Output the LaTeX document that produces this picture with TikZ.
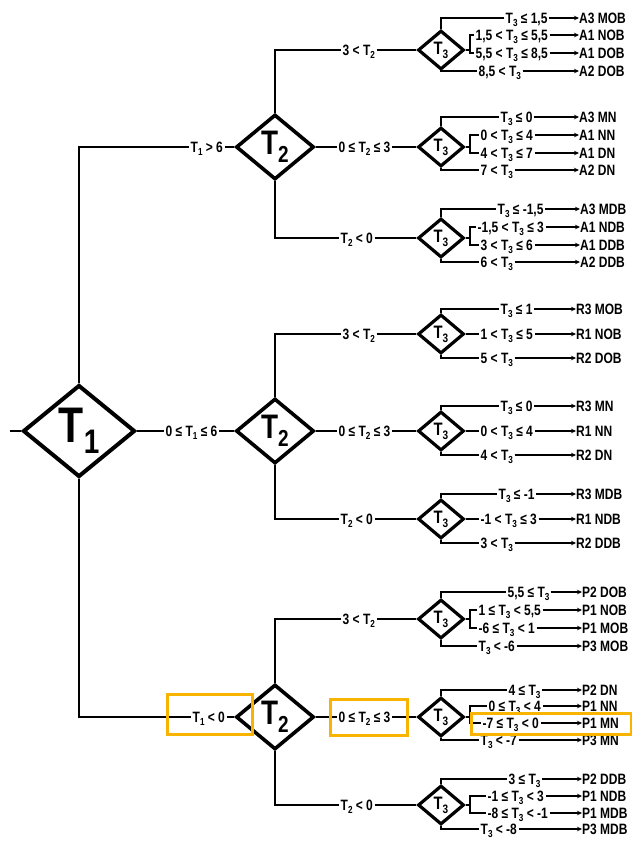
\documentclass[tikz,border=0pt]{standalone}
\usepackage{fontspec}
\setmainfont{Liberation Sans}
\newfontfamily\lblfont{Liberation Sans}[FakeStretch=0.8]
\newfontfamily\diafont{Liberation Sans}[FakeStretch=0.82]
\usetikzlibrary{shapes.geometric,arrows.meta}
\definecolor{hlc}{RGB}{248,180,0}
\newcommand\Ts[1]{T\raisebox{-0.22em}{\scalebox{0.68}{#1}}}
\tikzset{
 ln/.style={line width=1.9pt},
 dia/.style={shape=diamond, draw, inner sep=0pt, fill=white, line join=miter},
 d1/.style={dia, minimum width=112pt, minimum height=92pt, line width=4pt, font=\diafont\bfseries\fontsize{50}{50}\selectfont},
 d2/.style={dia, minimum width=78pt, minimum height=65pt, line width=3.6pt, font=\diafont\bfseries\fontsize{34}{34}\selectfont},
 d3/.style={dia, minimum width=46pt, minimum height=39pt, line width=3.2pt, font=\diafont\bfseries\fontsize{18}{18}\selectfont},
 lab/.style={anchor=west, inner xsep=1.5pt, inner ysep=0pt, text height=10.7pt, text depth=0pt, font=\lblfont\bfseries\fontsize{15}{15}\selectfont},
 res/.style={lab, inner xsep=0pt},
 arr/.style={ln, -{Stealth[length=5pt,width=4.5pt]}},
 hl/.style={draw=hlc, line width=3pt}
}
\begin{document}
\begin{tikzpicture}[x=1pt,y=-1pt]
\useasboundingbox (0,0) rectangle (632,844);
% ---------- level 1
\node[d1] (T1) at (79,431) {\Ts{1}};
\coordinate (in) at (10,431);
\draw[ln] (in) -- (T1.west);
\node[d2] (Ta) at (275,147) {\Ts{2}};
\node[d2] (Tb) at (275,431) {\Ts{2}};
\node[d2] (Tc) at (275,717) {\Ts{2}};
\node[lab] (t1a) at (189,147) {\Ts{1} > 6};
\node[lab] (t1b) at (164,431) {0 ≤ \Ts{1} ≤ 6};
\node[lab] (t1c) at (191,717) {\Ts{1} < 0};
\draw[ln] (T1.north) |- (t1a.west); \draw[ln] (t1a.east) -- (Ta.west);
\draw[ln] (T1.east) -- (t1b.west); \draw[ln] (t1b.east) -- (Tb.west);
\draw[ln] (T1.south) |- (t1c.west); \draw[ln] (t1c.east) -- (Tc.west);
% ---------- T3 nodes
\node[d3] (a1) at (441,50) {\Ts{3}};
\node[d3] (a2) at (441,147) {\Ts{3}};
\node[d3] (a3) at (441,238) {\Ts{3}};
\node[d3] (r1) at (441,334) {\Ts{3}};
\node[d3] (r2) at (441,431) {\Ts{3}};
\node[d3] (r3) at (441,519) {\Ts{3}};
\node[d3] (p1) at (441,619) {\Ts{3}};
\node[d3] (p2) at (441,717) {\Ts{3}};
\node[d3] (p3) at (441,805) {\Ts{3}};
% ---------- level 2 labels
\node[lab] (ua) at (341,50) {3 < \Ts{2}};
\node[lab] (ma) at (337,147) {0 ≤ \Ts{2} ≤ 3};
\node[lab] (da) at (339,238) {\Ts{2} < 0};
\node[lab] (ub) at (341,334) {3 < \Ts{2}};
\node[lab] (mb) at (337,431) {0 ≤ \Ts{2} ≤ 3};
\node[lab] (db) at (339,519) {\Ts{2} < 0};
\node[lab] (uc) at (341,619) {3 < \Ts{2}};
\node[lab] (mc) at (337,717) {0 ≤ \Ts{2} ≤ 3};
\node[lab] (dc) at (339,805) {\Ts{2} < 0};
\draw[ln] (Ta.north) |- (ua.west); \draw[ln] (ua.east) -- (a1.west);
\draw[ln] (Ta.east) -- (ma.west);  \draw[ln] (ma.east) -- (a2.west);
\draw[ln] (Ta.south) |- (da.west); \draw[ln] (da.east) -- (a3.west);
\draw[ln] (Tb.north) |- (ub.west); \draw[ln] (ub.east) -- (r1.west);
\draw[ln] (Tb.east) -- (mb.west);  \draw[ln] (mb.east) -- (r2.west);
\draw[ln] (Tb.south) |- (db.west); \draw[ln] (db.east) -- (r3.west);
\draw[ln] (Tc.north) |- (uc.west); \draw[ln] (uc.east) -- (p1.west);
\draw[ln] (Tc.east) -- (mc.west);  \draw[ln] (mc.east) -- (p2.west);
\draw[ln] (Tc.south) |- (dc.west); \draw[ln] (dc.east) -- (p3.west);
% ---------- A1
\node[lab] (a1l1) at (504,18) {\Ts{3} ≤ 1,5};
\node[lab] (a1l2) at (474,35) {1,5 < \Ts{3} ≤ 5,5};
\node[lab] (a1l3) at (474,53) {5,5 < \Ts{3} ≤ 8,5};
\node[lab] (a1l4) at (477,71) {8,5 < \Ts{3}};
\node[res] (a1o1) at (579,18) {A3 MOB};
\node[res] (a1o2) at (579,35) {A1 NOB};
\node[res] (a1o3) at (579,53) {A1 DOB};
\node[res] (a1o4) at (579,71) {A2 DOB};
% ---------- A2
\node[lab] (a2l1) at (499,117) {\Ts{3} ≤ 0};
\node[lab] (a2l2) at (479,135) {0 < \Ts{3} ≤ 4};
\node[lab] (a2l3) at (479,153) {4 < \Ts{3} ≤ 7};
\node[lab] (a2l4) at (479,170) {7 < \Ts{3}};
\node[res] (a2o1) at (579,117) {A3 MN};
\node[res] (a2o2) at (579,135) {A1 NN};
\node[res] (a2o3) at (579,153) {A1 DN};
\node[res] (a2o4) at (579,170) {A2 DN};
% ---------- A3
\node[lab] (a3l1) at (496,209) {\Ts{3} ≤ -1,5};
\node[lab] (a3l2) at (476,227) {-1,5 < \Ts{3} ≤ 3};
\node[lab] (a3l3) at (479,245) {3 < \Ts{3} ≤ 6};
\node[lab] (a3l4) at (479,262) {6 < \Ts{3}};
\node[res] (a3o1) at (580,209) {A3 MDB};
\node[res] (a3o2) at (580,227) {A1 NDB};
\node[res] (a3o3) at (580,245) {A1 DDB};
\node[res] (a3o4) at (580,262) {A2 DDB};
% ---------- R1
\node[lab] (r1l1) at (499,309) {\Ts{3} ≤ 1};
\node[lab] (r1l2) at (479,334) {1 < \Ts{3} ≤ 5};
\node[lab] (r1l3) at (479,358) {5 < \Ts{3}};
\node[res] (r1o1) at (576,309) {R3 MOB};
\node[res] (r1o2) at (576,334) {R1 NOB};
\node[res] (r1o3) at (576,358) {R2 DOB};
% ---------- R2
\node[lab] (r2l1) at (499,406) {\Ts{3} ≤ 0};
\node[lab] (r2l2) at (479,431) {0 < \Ts{3} ≤ 4};
\node[lab] (r2l3) at (479,455) {4 < \Ts{3}};
\node[res] (r2o1) at (576,406) {R3 MN};
\node[res] (r2o2) at (576,431) {R1 NN};
\node[res] (r2o3) at (576,455) {R2 DN};
% ---------- R3
\node[lab] (r3l1) at (497,494) {\Ts{3} ≤ -1};
\node[lab] (r3l2) at (479,519) {-1 < \Ts{3} ≤ 3};
\node[lab] (r3l3) at (479,543) {3 < \Ts{3}};
\node[res] (r3o1) at (576,494) {R3 MDB};
\node[res] (r3o2) at (576,519) {R1 NDB};
\node[res] (r3o3) at (576,543) {R2 DDB};
% ---------- P1
\node[lab] (p1l1) at (506,592) {5,5 ≤ \Ts{3}};
\node[lab] (p1l2) at (477,610) {1 ≤ \Ts{3} < 5,5};
\node[lab] (p1l3) at (477,628) {-6 ≤ \Ts{3} < 1};
\node[lab] (p1l4) at (477,646) {\Ts{3} < -6};
\node[res] (p1o1) at (582,592) {P2 DOB};
\node[res] (p1o2) at (582,610) {P1 NOB};
\node[res] (p1o3) at (582,628) {P1 MOB};
\node[res] (p1o4) at (582,646) {P3 MOB};
% ---------- P2
\node[lab] (p2l1) at (507,690) {4 ≤ \Ts{3}};
\node[lab] (p2l2) at (487,706) {0 ≤ \Ts{3} < 4};
\node[lab] (p2l3) at (481,723) {-7 ≤ \Ts{3} < 0};
\node[lab] (p2l4) at (479,740) {\Ts{3} < -7};
\node[res] (p2o1) at (582,690) {P2 DN};
\node[res] (p2o2) at (582,706) {P1 NN};
\node[res] (p2o3) at (582,723) {P1 MN};
\node[res] (p2o4) at (582,740) {P3 MN};
% ---------- P3
\node[lab] (p3l1) at (507,779) {3 ≤ \Ts{3}};
\node[lab] (p3l2) at (486,796) {-1 ≤ \Ts{3} < 3};
\node[lab] (p3l3) at (486,813) {-8 ≤ \Ts{3} < -1};
\node[lab] (p3l4) at (479,829) {\Ts{3} < -8};
\node[res] (p3o1) at (582,779) {P2 DDB};
\node[res] (p3o2) at (582,796) {P1 NDB};
\node[res] (p3o3) at (582,813) {P1 MDB};
\node[res] (p3o4) at (582,829) {P3 MDB};
% ---------- four-way T3 branches
\foreach \g in {a1,a2,a3,p1,p2,p3}{
  \draw[ln] (\g.north) |- (\g l1.west);
  \draw[ln] (\g.east) -- ++(4,0) |- (\g l2.west);
  \draw[ln] (\g.east) ++(4,0) |- (\g l3.west);
  \draw[ln] (\g.south) |- (\g l4.west);
  \foreach \k in {1,2,3,4}{\draw[arr] (\g l\k.east) -- (\g o\k.west);}
}
% ---------- three-way T3 branches
\foreach \g in {r1,r2,r3}{
  \draw[ln] (\g.north) |- (\g l1.west);
  \draw[ln] (\g.east) -- (\g l2.west);
  \draw[ln] (\g.south) |- (\g l3.west);
  \foreach \k in {1,2,3}{\draw[arr] (\g l\k.east) -- (\g o\k.west);}
}
% ---------- highlights
\draw[hl] (167,694) rectangle (252,734);
\draw[hl] (330,699) rectangle (407,735);
\draw[hl] (471,713) rectangle (631,734);
\end{tikzpicture}
\end{document}
